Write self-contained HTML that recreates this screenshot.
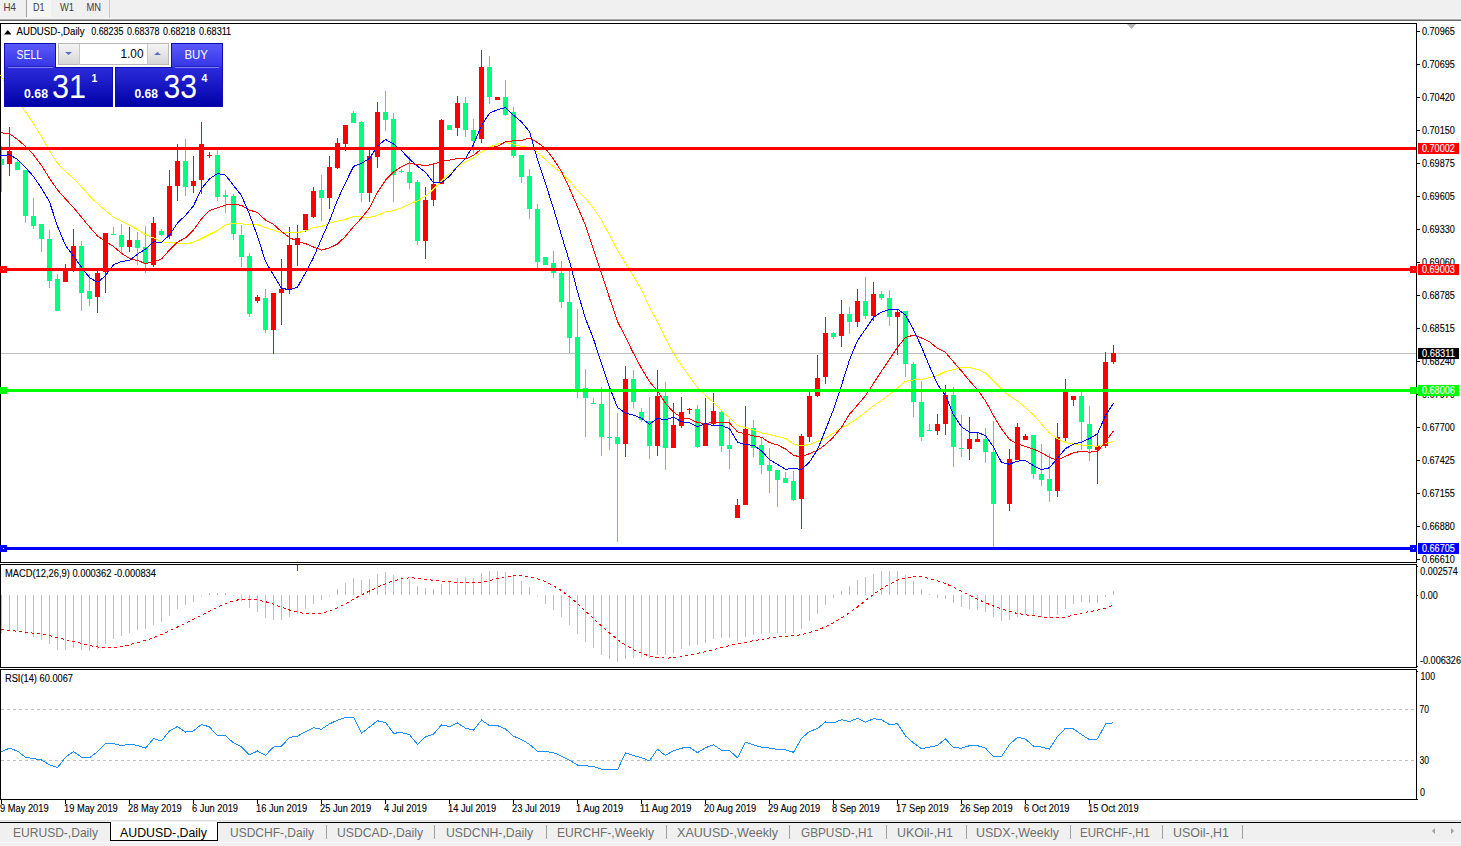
<!DOCTYPE html>
<html><head><meta charset="utf-8"><style>html,body{margin:0;padding:0;background:#fff;overflow:hidden}svg{display:block}</style></head>
<body><svg width="1461" height="846" viewBox="0 0 1461 846" font-family="'Liberation Sans', sans-serif">
<defs>
<linearGradient id="gt" x1="0" y1="0" x2="0" y2="1"><stop offset="0" stop-color="#5B5BFA"/><stop offset="1" stop-color="#3535E6"/></linearGradient>
<linearGradient id="gp" x1="0" y1="0" x2="0" y2="1"><stop offset="0" stop-color="#2C2CDC"/><stop offset="1" stop-color="#0000A6"/></linearGradient>
<linearGradient id="gb" x1="0" y1="0" x2="0" y2="1"><stop offset="0" stop-color="#F4F4F4"/><stop offset="1" stop-color="#D6D6D6"/></linearGradient>
</defs>
<rect x="0" y="0" width="1461" height="846" fill="#fff"/>
<rect x="0" y="0" width="1461" height="18" fill="#F0F0F0" />
<rect x="27" y="0" width="24" height="17" fill="#F6F6F6" />
<rect x="26" y="0" width="1" height="17" fill="#A0A0A0" />
<rect x="109" y="0" width="1" height="18" fill="#C8C8C8" />
<text x="3.5" y="11.2" font-size="10.2" fill="#404040" text-anchor="start" font-weight="normal" textLength="12.5" lengthAdjust="spacingAndGlyphs" >H4</text>
<text x="33" y="11.2" font-size="10.2" fill="#404040" text-anchor="start" font-weight="normal" textLength="11.5" lengthAdjust="spacingAndGlyphs" >D1</text>
<text x="60" y="11.2" font-size="10.2" fill="#404040" text-anchor="start" font-weight="normal" textLength="14" lengthAdjust="spacingAndGlyphs" >W1</text>
<text x="86.5" y="11.2" font-size="10.2" fill="#404040" text-anchor="start" font-weight="normal" textLength="14.5" lengthAdjust="spacingAndGlyphs" >MN</text>
<rect x="0" y="18" width="1461" height="1" fill="#F6F6F6" />
<rect x="0" y="19" width="1461" height="1" fill="#A8A8A8" />
<rect x="0" y="20" width="1461" height="1" fill="#6C6C6C" />
<rect x="0" y="23" width="1417" height="1" fill="#000" />
<rect x="0" y="562" width="1417" height="1" fill="#000" />
<rect x="0" y="23" width="1" height="540" fill="#000" />
<rect x="1416" y="23" width="1" height="540" fill="#000" />
<rect x="0" y="564" width="1417" height="1" fill="#000" />
<rect x="0" y="667" width="1417" height="1" fill="#000" />
<rect x="0" y="564" width="1" height="104" fill="#000" />
<rect x="1416" y="564" width="1" height="104" fill="#000" />
<rect x="0" y="669" width="1417" height="1" fill="#000" />
<rect x="0" y="799" width="1417" height="1" fill="#000" />
<rect x="0" y="669" width="1" height="131" fill="#000" />
<rect x="1416" y="669" width="1" height="131" fill="#000" />
<rect x="1" y="353" width="1415" height="1" fill="#C0C0C0" />
<g shape-rendering="crispEdges">
<rect x="1" y="146" width="1" height="46" fill="#00FF7F" />
<rect x="1" y="159" width="3" height="6" fill="#00FF7F" />
<rect x="9" y="127" width="1" height="49" fill="#FF0000" />
<rect x="7" y="151" width="5" height="13" fill="#FF0000" />
<rect x="17" y="159" width="1" height="11" fill="#00FF7F" />
<rect x="15" y="162" width="5" height="8" fill="#00FF7F" />
<rect x="25" y="170" width="1" height="53" fill="#00FF7F" />
<rect x="23" y="170" width="5" height="46" fill="#00FF7F" />
<rect x="33" y="198" width="1" height="31" fill="#00FF7F" />
<rect x="31" y="216" width="5" height="10" fill="#00FF7F" />
<rect x="41" y="224" width="1" height="28" fill="#00FF7F" />
<rect x="39" y="224" width="5" height="15" fill="#00FF7F" />
<rect x="49" y="230" width="1" height="58" fill="#00FF7F" />
<rect x="47" y="239" width="5" height="42" fill="#00FF7F" />
<rect x="57" y="274" width="1" height="37" fill="#00FF7F" />
<rect x="55" y="279" width="5" height="32" fill="#00FF7F" />
<rect x="65" y="264" width="1" height="18" fill="#FF0000" />
<rect x="63" y="271" width="5" height="11" fill="#FF0000" />
<rect x="73" y="229" width="1" height="43" fill="#FF0000" />
<rect x="71" y="246" width="5" height="25" fill="#FF0000" />
<rect x="81" y="241" width="1" height="70" fill="#00FF7F" />
<rect x="79" y="246" width="5" height="47" fill="#00FF7F" />
<rect x="89" y="274" width="1" height="32" fill="#00FF7F" />
<rect x="87" y="291" width="5" height="8" fill="#00FF7F" />
<rect x="97" y="271" width="1" height="42" fill="#FF0000" />
<rect x="95" y="273" width="5" height="24" fill="#FF0000" />
<rect x="105" y="233" width="1" height="60" fill="#FF0000" />
<rect x="103" y="233" width="5" height="39" fill="#FF0000" />
<rect x="113" y="227" width="1" height="8" fill="#00FF7F" />
<rect x="111" y="234" width="5" height="1" fill="#00FF7F" />
<rect x="121" y="224" width="1" height="30" fill="#00FF7F" />
<rect x="119" y="235" width="5" height="12" fill="#00FF7F" />
<rect x="129" y="227" width="1" height="25" fill="#FF0000" />
<rect x="127" y="240" width="5" height="7" fill="#FF0000" />
<rect x="137" y="232" width="1" height="33" fill="#00FF7F" />
<rect x="135" y="240" width="5" height="8" fill="#00FF7F" />
<rect x="145" y="226" width="1" height="47" fill="#00FF7F" />
<rect x="143" y="247" width="5" height="17" fill="#00FF7F" />
<rect x="153" y="217" width="1" height="50" fill="#FF0000" />
<rect x="151" y="223" width="5" height="42" fill="#FF0000" />
<rect x="161" y="229" width="1" height="7" fill="#00FF7F" />
<rect x="159" y="231" width="5" height="4" fill="#00FF7F" />
<rect x="169" y="170" width="1" height="69" fill="#FF0000" />
<rect x="167" y="186" width="5" height="50" fill="#FF0000" />
<rect x="177" y="144" width="1" height="57" fill="#FF0000" />
<rect x="175" y="161" width="5" height="25" fill="#FF0000" />
<rect x="185" y="139" width="1" height="57" fill="#00FF7F" />
<rect x="183" y="161" width="5" height="26" fill="#00FF7F" />
<rect x="193" y="156" width="1" height="37" fill="#FF0000" />
<rect x="191" y="181" width="5" height="5" fill="#FF0000" />
<rect x="201" y="122" width="1" height="72" fill="#FF0000" />
<rect x="199" y="144" width="5" height="36" fill="#FF0000" />
<rect x="209" y="152" width="1" height="6" fill="#FF0000" />
<rect x="207" y="155" width="5" height="1" fill="#FF0000" />
<rect x="217" y="150" width="1" height="51" fill="#00FF7F" />
<rect x="215" y="155" width="5" height="42" fill="#00FF7F" />
<rect x="225" y="190" width="1" height="23" fill="#00FF7F" />
<rect x="223" y="195" width="5" height="2" fill="#00FF7F" />
<rect x="233" y="194" width="1" height="46" fill="#00FF7F" />
<rect x="231" y="196" width="5" height="38" fill="#00FF7F" />
<rect x="241" y="225" width="1" height="42" fill="#00FF7F" />
<rect x="239" y="235" width="5" height="22" fill="#00FF7F" />
<rect x="249" y="253" width="1" height="64" fill="#00FF7F" />
<rect x="247" y="256" width="5" height="58" fill="#00FF7F" />
<rect x="257" y="295" width="1" height="8" fill="#FF0000" />
<rect x="255" y="297" width="5" height="4" fill="#FF0000" />
<rect x="265" y="289" width="1" height="44" fill="#00FF7F" />
<rect x="263" y="298" width="5" height="32" fill="#00FF7F" />
<rect x="273" y="293" width="1" height="61" fill="#FF0000" />
<rect x="271" y="293" width="5" height="37" fill="#FF0000" />
<rect x="281" y="259" width="1" height="66" fill="#FF0000" />
<rect x="279" y="289" width="5" height="4" fill="#FF0000" />
<rect x="289" y="227" width="1" height="67" fill="#FF0000" />
<rect x="287" y="245" width="5" height="44" fill="#FF0000" />
<rect x="297" y="225" width="1" height="41" fill="#FF0000" />
<rect x="295" y="238" width="5" height="7" fill="#FF0000" />
<rect x="305" y="214" width="1" height="18" fill="#FF0000" />
<rect x="303" y="214" width="5" height="16" fill="#FF0000" />
<rect x="313" y="187" width="1" height="31" fill="#FF0000" />
<rect x="311" y="191" width="5" height="26" fill="#FF0000" />
<rect x="321" y="175" width="1" height="46" fill="#00FF7F" />
<rect x="319" y="190" width="5" height="8" fill="#00FF7F" />
<rect x="329" y="156" width="1" height="53" fill="#FF0000" />
<rect x="327" y="167" width="5" height="31" fill="#FF0000" />
<rect x="337" y="138" width="1" height="31" fill="#FF0000" />
<rect x="335" y="143" width="5" height="25" fill="#FF0000" />
<rect x="345" y="125" width="1" height="26" fill="#FF0000" />
<rect x="343" y="125" width="5" height="19" fill="#FF0000" />
<rect x="353" y="111" width="1" height="12" fill="#00FF7F" />
<rect x="351" y="113" width="5" height="10" fill="#00FF7F" />
<rect x="361" y="121" width="1" height="81" fill="#00FF7F" />
<rect x="359" y="122" width="5" height="71" fill="#00FF7F" />
<rect x="369" y="149" width="1" height="53" fill="#FF0000" />
<rect x="367" y="156" width="5" height="37" fill="#FF0000" />
<rect x="377" y="102" width="1" height="66" fill="#FF0000" />
<rect x="375" y="112" width="5" height="45" fill="#FF0000" />
<rect x="385" y="91" width="1" height="40" fill="#00FF7F" />
<rect x="383" y="112" width="5" height="8" fill="#00FF7F" />
<rect x="393" y="113" width="1" height="89" fill="#00FF7F" />
<rect x="391" y="119" width="5" height="56" fill="#00FF7F" />
<rect x="401" y="169" width="1" height="4" fill="#00FF7F" />
<rect x="399" y="171" width="5" height="1" fill="#00FF7F" />
<rect x="409" y="156" width="1" height="33" fill="#00FF7F" />
<rect x="407" y="172" width="5" height="11" fill="#00FF7F" />
<rect x="417" y="180" width="1" height="65" fill="#00FF7F" />
<rect x="415" y="182" width="5" height="59" fill="#00FF7F" />
<rect x="425" y="187" width="1" height="72" fill="#FF0000" />
<rect x="423" y="200" width="5" height="41" fill="#FF0000" />
<rect x="433" y="163" width="1" height="43" fill="#FF0000" />
<rect x="431" y="184" width="5" height="16" fill="#FF0000" />
<rect x="441" y="119" width="1" height="65" fill="#FF0000" />
<rect x="439" y="120" width="5" height="64" fill="#FF0000" />
<rect x="449" y="125" width="1" height="5" fill="#00FF7F" />
<rect x="447" y="125" width="5" height="5" fill="#00FF7F" />
<rect x="457" y="96" width="1" height="40" fill="#FF0000" />
<rect x="455" y="103" width="5" height="25" fill="#FF0000" />
<rect x="465" y="97" width="1" height="40" fill="#00FF7F" />
<rect x="463" y="103" width="5" height="27" fill="#00FF7F" />
<rect x="473" y="119" width="1" height="34" fill="#00FF7F" />
<rect x="471" y="130" width="5" height="11" fill="#00FF7F" />
<rect x="481" y="50" width="1" height="93" fill="#FF0000" />
<rect x="479" y="67" width="5" height="72" fill="#FF0000" />
<rect x="489" y="56" width="1" height="48" fill="#00FF7F" />
<rect x="487" y="67" width="5" height="30" fill="#00FF7F" />
<rect x="497" y="97" width="1" height="3" fill="#FF0000" />
<rect x="495" y="97" width="5" height="3" fill="#FF0000" />
<rect x="505" y="80" width="1" height="36" fill="#00FF7F" />
<rect x="503" y="97" width="5" height="18" fill="#00FF7F" />
<rect x="513" y="107" width="1" height="51" fill="#00FF7F" />
<rect x="511" y="112" width="5" height="44" fill="#00FF7F" />
<rect x="521" y="155" width="1" height="28" fill="#00FF7F" />
<rect x="519" y="155" width="5" height="22" fill="#00FF7F" />
<rect x="529" y="169" width="1" height="50" fill="#00FF7F" />
<rect x="527" y="176" width="5" height="33" fill="#00FF7F" />
<rect x="537" y="204" width="1" height="64" fill="#00FF7F" />
<rect x="535" y="209" width="5" height="53" fill="#00FF7F" />
<rect x="545" y="257" width="1" height="8" fill="#00FF7F" />
<rect x="543" y="257" width="5" height="8" fill="#00FF7F" />
<rect x="553" y="251" width="1" height="27" fill="#00FF7F" />
<rect x="551" y="263" width="5" height="10" fill="#00FF7F" />
<rect x="561" y="261" width="1" height="47" fill="#00FF7F" />
<rect x="559" y="273" width="5" height="29" fill="#00FF7F" />
<rect x="569" y="270" width="1" height="83" fill="#00FF7F" />
<rect x="567" y="302" width="5" height="36" fill="#00FF7F" />
<rect x="577" y="309" width="1" height="89" fill="#00FF7F" />
<rect x="575" y="337" width="5" height="52" fill="#00FF7F" />
<rect x="585" y="369" width="1" height="68" fill="#00FF7F" />
<rect x="583" y="388" width="5" height="10" fill="#00FF7F" />
<rect x="593" y="398" width="1" height="6" fill="#00FF7F" />
<rect x="591" y="403" width="5" height="1" fill="#00FF7F" />
<rect x="601" y="387" width="1" height="69" fill="#00FF7F" />
<rect x="599" y="404" width="5" height="33" fill="#00FF7F" />
<rect x="609" y="392" width="1" height="58" fill="#00FF7F" />
<rect x="607" y="437" width="5" height="1" fill="#00FF7F" />
<rect x="617" y="413" width="1" height="129" fill="#00FF7F" />
<rect x="615" y="437" width="5" height="7" fill="#00FF7F" />
<rect x="625" y="366" width="1" height="91" fill="#FF0000" />
<rect x="623" y="379" width="5" height="65" fill="#FF0000" />
<rect x="633" y="370" width="1" height="38" fill="#00FF7F" />
<rect x="631" y="379" width="5" height="23" fill="#00FF7F" />
<rect x="641" y="408" width="1" height="14" fill="#00FF7F" />
<rect x="639" y="412" width="5" height="8" fill="#00FF7F" />
<rect x="649" y="397" width="1" height="62" fill="#00FF7F" />
<rect x="647" y="421" width="5" height="25" fill="#00FF7F" />
<rect x="657" y="370" width="1" height="86" fill="#FF0000" />
<rect x="655" y="396" width="5" height="50" fill="#FF0000" />
<rect x="665" y="382" width="1" height="88" fill="#00FF7F" />
<rect x="663" y="396" width="5" height="52" fill="#00FF7F" />
<rect x="673" y="403" width="1" height="45" fill="#FF0000" />
<rect x="671" y="425" width="5" height="23" fill="#FF0000" />
<rect x="681" y="397" width="1" height="31" fill="#FF0000" />
<rect x="679" y="412" width="5" height="14" fill="#FF0000" />
<rect x="689" y="408" width="1" height="6" fill="#FF0000" />
<rect x="687" y="409" width="5" height="1" fill="#FF0000" />
<rect x="697" y="405" width="1" height="43" fill="#00FF7F" />
<rect x="695" y="409" width="5" height="38" fill="#00FF7F" />
<rect x="705" y="398" width="1" height="48" fill="#FF0000" />
<rect x="703" y="424" width="5" height="22" fill="#FF0000" />
<rect x="713" y="393" width="1" height="32" fill="#FF0000" />
<rect x="711" y="411" width="5" height="13" fill="#FF0000" />
<rect x="721" y="411" width="1" height="41" fill="#00FF7F" />
<rect x="719" y="412" width="5" height="34" fill="#00FF7F" />
<rect x="729" y="419" width="1" height="50" fill="#00FF7F" />
<rect x="727" y="445" width="5" height="4" fill="#00FF7F" />
<rect x="737" y="499" width="1" height="19" fill="#FF0000" />
<rect x="735" y="505" width="5" height="13" fill="#FF0000" />
<rect x="745" y="406" width="1" height="99" fill="#FF0000" />
<rect x="743" y="429" width="5" height="76" fill="#FF0000" />
<rect x="753" y="420" width="1" height="37" fill="#00FF7F" />
<rect x="751" y="428" width="5" height="20" fill="#00FF7F" />
<rect x="761" y="438" width="1" height="36" fill="#00FF7F" />
<rect x="759" y="445" width="5" height="20" fill="#00FF7F" />
<rect x="769" y="448" width="1" height="45" fill="#00FF7F" />
<rect x="767" y="465" width="5" height="6" fill="#00FF7F" />
<rect x="777" y="470" width="1" height="37" fill="#00FF7F" />
<rect x="775" y="470" width="5" height="10" fill="#00FF7F" />
<rect x="785" y="472" width="1" height="11" fill="#00FF7F" />
<rect x="783" y="478" width="5" height="5" fill="#00FF7F" />
<rect x="793" y="471" width="1" height="30" fill="#00FF7F" />
<rect x="791" y="481" width="5" height="19" fill="#00FF7F" />
<rect x="801" y="434" width="1" height="95" fill="#FF0000" />
<rect x="799" y="436" width="5" height="63" fill="#FF0000" />
<rect x="809" y="392" width="1" height="50" fill="#FF0000" />
<rect x="807" y="396" width="5" height="41" fill="#FF0000" />
<rect x="817" y="355" width="1" height="42" fill="#FF0000" />
<rect x="815" y="378" width="5" height="18" fill="#FF0000" />
<rect x="825" y="317" width="1" height="67" fill="#FF0000" />
<rect x="823" y="333" width="5" height="44" fill="#FF0000" />
<rect x="833" y="332" width="1" height="7" fill="#00FF7F" />
<rect x="831" y="333" width="5" height="4" fill="#00FF7F" />
<rect x="841" y="300" width="1" height="47" fill="#FF0000" />
<rect x="839" y="314" width="5" height="22" fill="#FF0000" />
<rect x="849" y="307" width="1" height="27" fill="#00FF7F" />
<rect x="847" y="314" width="5" height="8" fill="#00FF7F" />
<rect x="857" y="289" width="1" height="38" fill="#FF0000" />
<rect x="855" y="301" width="5" height="21" fill="#FF0000" />
<rect x="865" y="277" width="1" height="42" fill="#00FF7F" />
<rect x="863" y="301" width="5" height="15" fill="#00FF7F" />
<rect x="873" y="282" width="1" height="39" fill="#FF0000" />
<rect x="871" y="294" width="5" height="22" fill="#FF0000" />
<rect x="881" y="291" width="1" height="9" fill="#00FF7F" />
<rect x="879" y="294" width="5" height="4" fill="#00FF7F" />
<rect x="889" y="290" width="1" height="36" fill="#00FF7F" />
<rect x="887" y="298" width="5" height="19" fill="#00FF7F" />
<rect x="897" y="309" width="1" height="46" fill="#FF0000" />
<rect x="895" y="312" width="5" height="5" fill="#FF0000" />
<rect x="905" y="311" width="1" height="66" fill="#00FF7F" />
<rect x="903" y="311" width="5" height="53" fill="#00FF7F" />
<rect x="913" y="362" width="1" height="55" fill="#00FF7F" />
<rect x="911" y="364" width="5" height="38" fill="#00FF7F" />
<rect x="921" y="381" width="1" height="60" fill="#00FF7F" />
<rect x="919" y="402" width="5" height="35" fill="#00FF7F" />
<rect x="929" y="424" width="1" height="7" fill="#00FF7F" />
<rect x="927" y="430" width="5" height="1" fill="#00FF7F" />
<rect x="937" y="414" width="1" height="21" fill="#FF0000" />
<rect x="935" y="424" width="5" height="7" fill="#FF0000" />
<rect x="945" y="385" width="1" height="50" fill="#FF0000" />
<rect x="943" y="395" width="5" height="29" fill="#FF0000" />
<rect x="953" y="387" width="1" height="80" fill="#00FF7F" />
<rect x="951" y="395" width="5" height="52" fill="#00FF7F" />
<rect x="961" y="415" width="1" height="42" fill="#00FF7F" />
<rect x="959" y="448" width="5" height="1" fill="#00FF7F" />
<rect x="969" y="417" width="1" height="43" fill="#FF0000" />
<rect x="967" y="439" width="5" height="10" fill="#FF0000" />
<rect x="977" y="433" width="1" height="9" fill="#FF0000" />
<rect x="975" y="439" width="5" height="3" fill="#FF0000" />
<rect x="985" y="428" width="1" height="35" fill="#00FF7F" />
<rect x="983" y="439" width="5" height="13" fill="#00FF7F" />
<rect x="993" y="421" width="1" height="126" fill="#00FF7F" />
<rect x="991" y="452" width="5" height="52" fill="#00FF7F" />
<rect x="1009" y="449" width="1" height="62" fill="#FF0000" />
<rect x="1007" y="459" width="5" height="45" fill="#FF0000" />
<rect x="1017" y="423" width="1" height="37" fill="#FF0000" />
<rect x="1015" y="427" width="5" height="33" fill="#FF0000" />
<rect x="1025" y="434" width="1" height="6" fill="#FF0000" />
<rect x="1023" y="436" width="5" height="4" fill="#FF0000" />
<rect x="1033" y="435" width="1" height="44" fill="#00FF7F" />
<rect x="1031" y="435" width="5" height="39" fill="#00FF7F" />
<rect x="1041" y="444" width="1" height="42" fill="#00FF7F" />
<rect x="1039" y="474" width="5" height="6" fill="#00FF7F" />
<rect x="1049" y="453" width="1" height="49" fill="#00FF7F" />
<rect x="1047" y="479" width="5" height="12" fill="#00FF7F" />
<rect x="1057" y="423" width="1" height="74" fill="#FF0000" />
<rect x="1055" y="437" width="5" height="54" fill="#FF0000" />
<rect x="1065" y="379" width="1" height="62" fill="#FF0000" />
<rect x="1063" y="392" width="5" height="46" fill="#FF0000" />
<rect x="1073" y="396" width="1" height="10" fill="#FF0000" />
<rect x="1071" y="396" width="5" height="4" fill="#FF0000" />
<rect x="1081" y="390" width="1" height="60" fill="#00FF7F" />
<rect x="1079" y="396" width="5" height="26" fill="#00FF7F" />
<rect x="1089" y="406" width="1" height="55" fill="#00FF7F" />
<rect x="1087" y="424" width="5" height="25" fill="#00FF7F" />
<rect x="1097" y="433" width="1" height="51" fill="#FF0000" />
<rect x="1095" y="446" width="5" height="4" fill="#FF0000" />
<rect x="1105" y="352" width="1" height="96" fill="#FF0000" />
<rect x="1103" y="362" width="5" height="84" fill="#FF0000" />
<rect x="1113" y="345" width="1" height="19" fill="#FF0000" />
<rect x="1111" y="353" width="5" height="9" fill="#FF0000" />
</g>
<polyline points="0.5,75.5 1.5,77.0 9.5,88.6 17.5,100.3 25.5,111.9 33.5,123.6 41.5,136.5 49.5,150.8 57.5,163.1 65.5,171.5 73.5,178.2 81.5,186.8 89.5,195.9 97.5,203.7 105.5,210.6 113.5,217.2 121.5,221.3 129.5,225.4 137.5,229.5 145.5,234.6 153.5,237.9 161.5,241.7 169.5,242.7 177.5,243.2 185.5,244.0 193.5,242.4 201.5,238.5 209.5,234.5 217.5,230.5 225.5,225.0 233.5,223.3 241.5,223.8 249.5,224.8 257.5,224.7 265.5,227.4 273.5,230.3 281.5,232.8 289.5,232.7 297.5,232.6 305.5,231.0 313.5,227.5 321.5,226.4 329.5,223.1 337.5,221.1 345.5,219.4 353.5,216.3 361.5,216.9 369.5,217.5 377.5,215.4 385.5,211.7 393.5,210.7 401.5,207.7 409.5,204.2 417.5,200.7 425.5,196.1 433.5,189.2 441.5,180.9 449.5,173.4 457.5,166.6 465.5,161.5 473.5,158.0 481.5,152.1 489.5,147.3 497.5,143.9 505.5,142.6 513.5,144.1 521.5,146.6 529.5,147.4 537.5,152.5 545.5,159.7 553.5,167.0 561.5,173.1 569.5,181.0 577.5,190.8 585.5,198.3 593.5,208.0 601.5,220.0 609.5,235.2 617.5,250.1 625.5,263.3 633.5,276.2 641.5,289.5 649.5,307.5 657.5,321.8 665.5,338.5 673.5,353.3 681.5,365.5 689.5,376.5 697.5,387.8 705.5,395.5 713.5,402.5 721.5,410.7 729.5,417.7 737.5,425.7 745.5,427.6 753.5,430.0 761.5,432.9 769.5,434.5 777.5,436.5 785.5,438.4 793.5,444.1 801.5,445.7 809.5,444.6 817.5,441.4 825.5,438.4 833.5,433.1 841.5,427.8 849.5,423.5 857.5,418.4 865.5,412.1 873.5,405.9 881.5,400.5 889.5,394.4 897.5,387.9 905.5,381.2 913.5,379.9 921.5,379.4 929.5,377.7 937.5,375.5 945.5,371.5 953.5,369.7 961.5,367.3 969.5,367.5 977.5,369.5 985.5,373.0 993.5,381.2 1001.5,389.1 1009.5,396.0 1017.5,401.0 1025.5,407.5 1033.5,415.0 1041.5,423.8 1049.5,433.0 1057.5,438.7 1065.5,442.5 1073.5,444.1 1081.5,445.0 1089.5,445.6 1097.5,446.3 1105.5,443.4 1113.5,441.4" fill="none" stroke="#FFFF00" stroke-width="1" shape-rendering="crispEdges"/>
<polyline points="0.5,132.7 1.5,132.8 9.5,133.7 17.5,139.4 25.5,146.4 33.5,154.8 41.5,165.5 49.5,178.3 57.5,189.9 65.5,199.0 73.5,207.6 81.5,217.2 89.5,226.9 97.5,235.9 105.5,241.5 113.5,246.5 121.5,253.4 129.5,258.4 137.5,260.6 145.5,263.4 153.5,262.2 161.5,258.9 169.5,250.0 177.5,242.1 185.5,237.9 193.5,229.9 201.5,218.9 209.5,210.4 217.5,207.9 225.5,205.1 233.5,204.2 241.5,205.4 249.5,210.1 257.5,212.5 265.5,220.1 273.5,224.3 281.5,231.6 289.5,237.6 297.5,241.3 305.5,243.6 313.5,247.0 321.5,250.1 329.5,247.9 337.5,244.1 345.5,236.3 353.5,226.7 361.5,218.1 369.5,208.0 377.5,192.4 385.5,180.1 393.5,171.9 401.5,166.7 409.5,162.8 417.5,164.7 425.5,165.4 433.5,164.4 441.5,161.0 449.5,160.1 457.5,158.5 465.5,159.0 473.5,155.3 481.5,148.9 489.5,147.9 497.5,146.2 505.5,141.9 513.5,140.8 521.5,140.4 529.5,138.1 537.5,142.5 545.5,148.3 553.5,159.2 561.5,171.5 569.5,188.3 577.5,206.8 585.5,225.1 593.5,249.2 601.5,273.5 609.5,297.9 617.5,321.4 625.5,337.3 633.5,353.4 641.5,368.4 649.5,381.6 657.5,390.9 665.5,403.4 673.5,412.2 681.5,417.5 689.5,418.9 697.5,422.4 705.5,423.9 713.5,422.0 721.5,422.6 729.5,422.9 737.5,431.9 745.5,433.9 753.5,435.9 761.5,437.2 769.5,442.6 777.5,444.9 785.5,449.0 793.5,455.3 801.5,457.2 809.5,453.6 817.5,450.3 825.5,444.7 833.5,436.9 841.5,427.3 849.5,414.2 857.5,405.1 865.5,395.6 873.5,383.4 881.5,371.1 889.5,359.4 897.5,347.2 905.5,337.5 913.5,335.1 921.5,338.0 929.5,341.8 937.5,348.3 945.5,352.4 953.5,361.9 961.5,371.0 969.5,380.9 977.5,389.6 985.5,400.9 993.5,415.6 1001.5,429.0 1009.5,439.5 1017.5,444.0 1025.5,446.4 1033.5,449.1 1041.5,452.6 1049.5,457.4 1057.5,460.4 1065.5,456.4 1073.5,452.6 1081.5,451.4 1089.5,452.1 1097.5,451.7 1105.5,441.6 1113.5,430.8" fill="none" stroke="#FF0000" stroke-width="1" shape-rendering="crispEdges"/>
<polyline points="0.5,155.8 1.5,155.7 9.5,154.7 17.5,159.3 25.5,167.2 33.5,176.6 41.5,188.3 49.5,201.8 57.5,226.3 65.5,245.4 73.5,256.2 81.5,267.2 89.5,277.6 97.5,282.5 105.5,275.6 113.5,264.8 121.5,261.4 129.5,260.5 137.5,254.1 145.5,249.1 153.5,241.9 161.5,242.2 169.5,235.2 177.5,222.9 185.5,215.4 193.5,205.8 201.5,188.6 209.5,178.9 217.5,173.5 225.5,175.1 233.5,185.5 241.5,195.5 249.5,214.5 257.5,236.4 265.5,261.4 273.5,275.1 281.5,288.2 289.5,289.8 297.5,287.1 305.5,272.8 313.5,257.6 321.5,238.8 329.5,220.8 337.5,199.9 345.5,182.8 353.5,166.4 361.5,163.4 369.5,158.4 377.5,146.1 385.5,139.4 393.5,143.9 401.5,150.6 409.5,159.2 417.5,166.1 425.5,172.4 433.5,182.6 441.5,182.6 449.5,176.2 457.5,166.4 465.5,158.8 473.5,144.5 481.5,125.5 489.5,113.1 497.5,109.8 505.5,107.6 513.5,115.2 521.5,121.9 529.5,131.6 537.5,159.5 545.5,183.5 553.5,208.6 561.5,235.4 569.5,261.4 577.5,291.6 585.5,318.6 593.5,338.9 601.5,363.5 609.5,387.1 617.5,407.4 625.5,413.2 633.5,415.1 641.5,418.2 649.5,424.2 657.5,418.4 665.5,419.8 673.5,417.1 681.5,421.8 689.5,422.8 697.5,426.6 705.5,423.5 713.5,425.6 721.5,425.4 729.5,428.8 737.5,442.1 745.5,444.9 753.5,445.1 761.5,450.9 769.5,459.5 777.5,464.4 785.5,469.2 793.5,468.5 801.5,469.5 809.5,462.1 817.5,449.6 825.5,429.9 833.5,409.5 841.5,385.4 849.5,359.9 857.5,340.6 865.5,329.2 873.5,317.2 881.5,312.2 889.5,309.4 897.5,309.1 905.5,315.1 913.5,329.5 921.5,346.8 929.5,366.4 937.5,384.4 945.5,395.5 953.5,414.8 961.5,426.9 969.5,432.2 977.5,432.5 985.5,435.5 993.5,446.9 1001.5,462.5 1009.5,464.2 1017.5,461.1 1025.5,460.6 1033.5,465.6 1041.5,469.6 1049.5,467.8 1057.5,458.2 1065.5,448.6 1073.5,444.2 1081.5,442.2 1089.5,438.6 1097.5,433.8 1105.5,415.4 1113.5,403.4" fill="none" stroke="#0000FF" stroke-width="1" shape-rendering="crispEdges"/>
<rect x="1" y="147" width="1415" height="3" fill="#FF0000" />
<rect x="1" y="268" width="1415" height="3" fill="#FF0000" />
<rect x="1" y="389" width="1415" height="3" fill="#00FF00" />
<rect x="1" y="547" width="1415" height="3" fill="#0000FF" />
<rect x="0" y="266" width="7" height="7" fill="#FF0000" />
<rect x="1410" y="266" width="7" height="7" fill="#FF0000" />
<rect x="3" y="269" width="1" height="1" fill="#fff" />
<rect x="1413" y="269" width="1" height="1" fill="#fff" />
<rect x="0" y="387" width="7" height="7" fill="#00FF00" />
<rect x="1410" y="387" width="7" height="7" fill="#00FF00" />
<rect x="3" y="390" width="1" height="1" fill="#fff" />
<rect x="1413" y="390" width="1" height="1" fill="#fff" />
<rect x="0" y="545" width="7" height="7" fill="#0000FF" />
<rect x="1410" y="545" width="7" height="7" fill="#0000FF" />
<rect x="3" y="548" width="1" height="1" fill="#fff" />
<rect x="1413" y="548" width="1" height="1" fill="#fff" />
<polygon points="1127,24 1136,24 1131.5,29" fill="#B4B4B4"/>
<polygon points="4,34.5 11.5,34.5 7.75,30" fill="#000"/>
<text x="16.5" y="35.2" font-size="10" fill="#000" text-anchor="start" font-weight="normal" textLength="68" lengthAdjust="spacingAndGlyphs"  stroke="#000" stroke-width="0.12">AUDUSD-,Daily</text>
<text x="91.2" y="35.2" font-size="10" fill="#000" text-anchor="start" font-weight="normal" textLength="32.3" lengthAdjust="spacingAndGlyphs"  stroke="#000" stroke-width="0.12">0.68235</text>
<text x="127.1" y="35.2" font-size="10" fill="#000" text-anchor="start" font-weight="normal" textLength="32.3" lengthAdjust="spacingAndGlyphs"  stroke="#000" stroke-width="0.12">0.68378</text>
<text x="163.0" y="35.2" font-size="10" fill="#000" text-anchor="start" font-weight="normal" textLength="32.3" lengthAdjust="spacingAndGlyphs"  stroke="#000" stroke-width="0.12">0.68218</text>
<text x="198.89999999999998" y="35.2" font-size="10" fill="#000" text-anchor="start" font-weight="normal" textLength="32.3" lengthAdjust="spacingAndGlyphs"  stroke="#000" stroke-width="0.12">0.68311</text>
<rect x="1417" y="31" width="3" height="1" fill="#000" />
<text x="1422" y="34.6" font-size="10" fill="#000" text-anchor="start" font-weight="normal" textLength="32.8" lengthAdjust="spacingAndGlyphs"  stroke="#000" stroke-width="0.12">0.70965</text>
<rect x="1417" y="64" width="3" height="1" fill="#000" />
<text x="1422" y="67.6" font-size="10" fill="#000" text-anchor="start" font-weight="normal" textLength="32.8" lengthAdjust="spacingAndGlyphs"  stroke="#000" stroke-width="0.12">0.70695</text>
<rect x="1417" y="97" width="3" height="1" fill="#000" />
<text x="1422" y="100.6" font-size="10" fill="#000" text-anchor="start" font-weight="normal" textLength="32.8" lengthAdjust="spacingAndGlyphs"  stroke="#000" stroke-width="0.12">0.70420</text>
<rect x="1417" y="130" width="3" height="1" fill="#000" />
<text x="1422" y="133.6" font-size="10" fill="#000" text-anchor="start" font-weight="normal" textLength="32.8" lengthAdjust="spacingAndGlyphs"  stroke="#000" stroke-width="0.12">0.70150</text>
<rect x="1417" y="163" width="3" height="1" fill="#000" />
<text x="1422" y="166.6" font-size="10" fill="#000" text-anchor="start" font-weight="normal" textLength="32.8" lengthAdjust="spacingAndGlyphs"  stroke="#000" stroke-width="0.12">0.69875</text>
<rect x="1417" y="196" width="3" height="1" fill="#000" />
<text x="1422" y="199.6" font-size="10" fill="#000" text-anchor="start" font-weight="normal" textLength="32.8" lengthAdjust="spacingAndGlyphs"  stroke="#000" stroke-width="0.12">0.69605</text>
<rect x="1417" y="229" width="3" height="1" fill="#000" />
<text x="1422" y="232.6" font-size="10" fill="#000" text-anchor="start" font-weight="normal" textLength="32.8" lengthAdjust="spacingAndGlyphs"  stroke="#000" stroke-width="0.12">0.69330</text>
<rect x="1417" y="262" width="3" height="1" fill="#000" />
<text x="1422" y="265.6" font-size="10" fill="#000" text-anchor="start" font-weight="normal" textLength="32.8" lengthAdjust="spacingAndGlyphs"  stroke="#000" stroke-width="0.12">0.69060</text>
<rect x="1417" y="295" width="3" height="1" fill="#000" />
<text x="1422" y="298.6" font-size="10" fill="#000" text-anchor="start" font-weight="normal" textLength="32.8" lengthAdjust="spacingAndGlyphs"  stroke="#000" stroke-width="0.12">0.68785</text>
<rect x="1417" y="328" width="3" height="1" fill="#000" />
<text x="1422" y="331.6" font-size="10" fill="#000" text-anchor="start" font-weight="normal" textLength="32.8" lengthAdjust="spacingAndGlyphs"  stroke="#000" stroke-width="0.12">0.68515</text>
<rect x="1417" y="361" width="3" height="1" fill="#000" />
<text x="1422" y="364.6" font-size="10" fill="#000" text-anchor="start" font-weight="normal" textLength="32.8" lengthAdjust="spacingAndGlyphs"  stroke="#000" stroke-width="0.12">0.68240</text>
<rect x="1417" y="394" width="3" height="1" fill="#000" />
<text x="1422" y="397.6" font-size="10" fill="#000" text-anchor="start" font-weight="normal" textLength="32.8" lengthAdjust="spacingAndGlyphs"  stroke="#000" stroke-width="0.12">0.67970</text>
<rect x="1417" y="427" width="3" height="1" fill="#000" />
<text x="1422" y="430.6" font-size="10" fill="#000" text-anchor="start" font-weight="normal" textLength="32.8" lengthAdjust="spacingAndGlyphs"  stroke="#000" stroke-width="0.12">0.67700</text>
<rect x="1417" y="460" width="3" height="1" fill="#000" />
<text x="1422" y="463.6" font-size="10" fill="#000" text-anchor="start" font-weight="normal" textLength="32.8" lengthAdjust="spacingAndGlyphs"  stroke="#000" stroke-width="0.12">0.67425</text>
<rect x="1417" y="493" width="3" height="1" fill="#000" />
<text x="1422" y="496.6" font-size="10" fill="#000" text-anchor="start" font-weight="normal" textLength="32.8" lengthAdjust="spacingAndGlyphs"  stroke="#000" stroke-width="0.12">0.67155</text>
<rect x="1417" y="526" width="3" height="1" fill="#000" />
<text x="1422" y="529.6" font-size="10" fill="#000" text-anchor="start" font-weight="normal" textLength="32.8" lengthAdjust="spacingAndGlyphs"  stroke="#000" stroke-width="0.12">0.66880</text>
<rect x="1417" y="559" width="3" height="1" fill="#000" />
<text x="1422" y="562.6" font-size="10" fill="#000" text-anchor="start" font-weight="normal" textLength="32.8" lengthAdjust="spacingAndGlyphs"  stroke="#000" stroke-width="0.12">0.66610</text>
<rect x="1418" y="143" width="41" height="11" fill="#FF0000" />
<text x="1422" y="151.6" font-size="10" fill="#fff" text-anchor="start" font-weight="normal" textLength="32.8" lengthAdjust="spacingAndGlyphs"  stroke="#fff" stroke-width="0.12">0.70002</text>
<rect x="1418" y="264" width="41" height="11" fill="#FF0000" />
<text x="1422" y="272.6" font-size="10" fill="#fff" text-anchor="start" font-weight="normal" textLength="32.8" lengthAdjust="spacingAndGlyphs"  stroke="#fff" stroke-width="0.12">0.69003</text>
<rect x="1418" y="348" width="41" height="11" fill="#000" />
<text x="1422" y="356.6" font-size="10" fill="#fff" text-anchor="start" font-weight="normal" textLength="32.8" lengthAdjust="spacingAndGlyphs"  stroke="#fff" stroke-width="0.12">0.68311</text>
<rect x="1418" y="385" width="41" height="11" fill="#00FF00" />
<text x="1422" y="393.6" font-size="10" fill="#fff" text-anchor="start" font-weight="normal" textLength="32.8" lengthAdjust="spacingAndGlyphs"  stroke="#fff" stroke-width="0.12">0.68006</text>
<rect x="1418" y="543" width="41" height="11" fill="#0000FF" />
<text x="1422" y="551.6" font-size="10" fill="#fff" text-anchor="start" font-weight="normal" textLength="32.8" lengthAdjust="spacingAndGlyphs"  stroke="#fff" stroke-width="0.12">0.66705</text>
<g shape-rendering="crispEdges">
<rect x="1" y="595" width="1" height="38" fill="#C0C0C0" />
<rect x="9" y="595" width="1" height="36" fill="#C0C0C0" />
<rect x="17" y="595" width="1" height="36" fill="#C0C0C0" />
<rect x="25" y="595" width="1" height="39" fill="#C0C0C0" />
<rect x="33" y="595" width="1" height="42" fill="#C0C0C0" />
<rect x="41" y="595" width="1" height="45" fill="#C0C0C0" />
<rect x="49" y="595" width="1" height="49" fill="#C0C0C0" />
<rect x="57" y="595" width="1" height="55" fill="#C0C0C0" />
<rect x="65" y="595" width="1" height="55" fill="#C0C0C0" />
<rect x="73" y="595" width="1" height="53" fill="#C0C0C0" />
<rect x="81" y="595" width="1" height="55" fill="#C0C0C0" />
<rect x="89" y="595" width="1" height="56" fill="#C0C0C0" />
<rect x="97" y="595" width="1" height="54" fill="#C0C0C0" />
<rect x="105" y="595" width="1" height="49" fill="#C0C0C0" />
<rect x="113" y="595" width="1" height="44" fill="#C0C0C0" />
<rect x="121" y="595" width="1" height="41" fill="#C0C0C0" />
<rect x="129" y="595" width="1" height="38" fill="#C0C0C0" />
<rect x="137" y="595" width="1" height="35" fill="#C0C0C0" />
<rect x="145" y="595" width="1" height="34" fill="#C0C0C0" />
<rect x="153" y="595" width="1" height="30" fill="#C0C0C0" />
<rect x="161" y="595" width="1" height="27" fill="#C0C0C0" />
<rect x="169" y="595" width="1" height="21" fill="#C0C0C0" />
<rect x="177" y="595" width="1" height="14" fill="#C0C0C0" />
<rect x="185" y="595" width="1" height="10" fill="#C0C0C0" />
<rect x="193" y="595" width="1" height="7" fill="#C0C0C0" />
<rect x="201" y="595" width="1" height="1" fill="#C0C0C0" />
<rect x="209" y="593" width="1" height="2" fill="#C0C0C0" />
<rect x="217" y="593" width="1" height="2" fill="#C0C0C0" />
<rect x="225" y="593" width="1" height="2" fill="#C0C0C0" />
<rect x="233" y="595" width="1" height="1" fill="#C0C0C0" />
<rect x="241" y="595" width="1" height="6" fill="#C0C0C0" />
<rect x="249" y="595" width="1" height="13" fill="#C0C0C0" />
<rect x="257" y="595" width="1" height="17" fill="#C0C0C0" />
<rect x="265" y="595" width="1" height="23" fill="#C0C0C0" />
<rect x="273" y="595" width="1" height="25" fill="#C0C0C0" />
<rect x="281" y="595" width="1" height="25" fill="#C0C0C0" />
<rect x="289" y="595" width="1" height="22" fill="#C0C0C0" />
<rect x="297" y="595" width="1" height="19" fill="#C0C0C0" />
<rect x="305" y="595" width="1" height="14" fill="#C0C0C0" />
<rect x="313" y="595" width="1" height="9" fill="#C0C0C0" />
<rect x="321" y="595" width="1" height="5" fill="#C0C0C0" />
<rect x="329" y="595" width="1" height="1" fill="#C0C0C0" />
<rect x="337" y="589" width="1" height="6" fill="#C0C0C0" />
<rect x="345" y="583" width="1" height="12" fill="#C0C0C0" />
<rect x="353" y="578" width="1" height="17" fill="#C0C0C0" />
<rect x="361" y="580" width="1" height="15" fill="#C0C0C0" />
<rect x="369" y="579" width="1" height="16" fill="#C0C0C0" />
<rect x="377" y="574" width="1" height="21" fill="#C0C0C0" />
<rect x="385" y="572" width="1" height="23" fill="#C0C0C0" />
<rect x="393" y="575" width="1" height="20" fill="#C0C0C0" />
<rect x="401" y="577" width="1" height="18" fill="#C0C0C0" />
<rect x="409" y="579" width="1" height="16" fill="#C0C0C0" />
<rect x="417" y="586" width="1" height="9" fill="#C0C0C0" />
<rect x="425" y="588" width="1" height="7" fill="#C0C0C0" />
<rect x="433" y="589" width="1" height="6" fill="#C0C0C0" />
<rect x="441" y="584" width="1" height="11" fill="#C0C0C0" />
<rect x="449" y="582" width="1" height="13" fill="#C0C0C0" />
<rect x="457" y="578" width="1" height="17" fill="#C0C0C0" />
<rect x="465" y="577" width="1" height="18" fill="#C0C0C0" />
<rect x="473" y="578" width="1" height="17" fill="#C0C0C0" />
<rect x="481" y="573" width="1" height="22" fill="#C0C0C0" />
<rect x="489" y="571" width="1" height="24" fill="#C0C0C0" />
<rect x="497" y="571" width="1" height="24" fill="#C0C0C0" />
<rect x="505" y="572" width="1" height="23" fill="#C0C0C0" />
<rect x="513" y="576" width="1" height="19" fill="#C0C0C0" />
<rect x="521" y="581" width="1" height="14" fill="#C0C0C0" />
<rect x="529" y="587" width="1" height="8" fill="#C0C0C0" />
<rect x="537" y="595" width="1" height="1" fill="#C0C0C0" />
<rect x="545" y="595" width="1" height="9" fill="#C0C0C0" />
<rect x="553" y="595" width="1" height="15" fill="#C0C0C0" />
<rect x="561" y="595" width="1" height="22" fill="#C0C0C0" />
<rect x="569" y="595" width="1" height="30" fill="#C0C0C0" />
<rect x="577" y="595" width="1" height="39" fill="#C0C0C0" />
<rect x="585" y="595" width="1" height="47" fill="#C0C0C0" />
<rect x="593" y="595" width="1" height="53" fill="#C0C0C0" />
<rect x="601" y="595" width="1" height="60" fill="#C0C0C0" />
<rect x="609" y="595" width="1" height="64" fill="#C0C0C0" />
<rect x="617" y="595" width="1" height="67" fill="#C0C0C0" />
<rect x="625" y="595" width="1" height="64" fill="#C0C0C0" />
<rect x="633" y="595" width="1" height="63" fill="#C0C0C0" />
<rect x="641" y="595" width="1" height="62" fill="#C0C0C0" />
<rect x="649" y="595" width="1" height="63" fill="#C0C0C0" />
<rect x="657" y="595" width="1" height="60" fill="#C0C0C0" />
<rect x="665" y="595" width="1" height="60" fill="#C0C0C0" />
<rect x="673" y="595" width="1" height="58" fill="#C0C0C0" />
<rect x="681" y="595" width="1" height="54" fill="#C0C0C0" />
<rect x="689" y="595" width="1" height="51" fill="#C0C0C0" />
<rect x="697" y="595" width="1" height="50" fill="#C0C0C0" />
<rect x="705" y="595" width="1" height="48" fill="#C0C0C0" />
<rect x="713" y="595" width="1" height="44" fill="#C0C0C0" />
<rect x="721" y="595" width="1" height="43" fill="#C0C0C0" />
<rect x="729" y="595" width="1" height="43" fill="#C0C0C0" />
<rect x="737" y="595" width="1" height="46" fill="#C0C0C0" />
<rect x="745" y="595" width="1" height="42" fill="#C0C0C0" />
<rect x="753" y="595" width="1" height="40" fill="#C0C0C0" />
<rect x="761" y="595" width="1" height="39" fill="#C0C0C0" />
<rect x="769" y="595" width="1" height="38" fill="#C0C0C0" />
<rect x="777" y="595" width="1" height="38" fill="#C0C0C0" />
<rect x="785" y="595" width="1" height="38" fill="#C0C0C0" />
<rect x="793" y="595" width="1" height="38" fill="#C0C0C0" />
<rect x="801" y="595" width="1" height="34" fill="#C0C0C0" />
<rect x="809" y="595" width="1" height="26" fill="#C0C0C0" />
<rect x="817" y="595" width="1" height="19" fill="#C0C0C0" />
<rect x="825" y="595" width="1" height="10" fill="#C0C0C0" />
<rect x="833" y="595" width="1" height="3" fill="#C0C0C0" />
<rect x="841" y="591" width="1" height="4" fill="#C0C0C0" />
<rect x="849" y="586" width="1" height="9" fill="#C0C0C0" />
<rect x="857" y="580" width="1" height="15" fill="#C0C0C0" />
<rect x="865" y="577" width="1" height="18" fill="#C0C0C0" />
<rect x="873" y="574" width="1" height="21" fill="#C0C0C0" />
<rect x="881" y="571" width="1" height="24" fill="#C0C0C0" />
<rect x="889" y="571" width="1" height="24" fill="#C0C0C0" />
<rect x="897" y="571" width="1" height="24" fill="#C0C0C0" />
<rect x="905" y="575" width="1" height="20" fill="#C0C0C0" />
<rect x="913" y="581" width="1" height="14" fill="#C0C0C0" />
<rect x="921" y="589" width="1" height="6" fill="#C0C0C0" />
<rect x="929" y="594" width="1" height="1" fill="#C0C0C0" />
<rect x="937" y="595" width="1" height="3" fill="#C0C0C0" />
<rect x="945" y="595" width="1" height="4" fill="#C0C0C0" />
<rect x="953" y="595" width="1" height="8" fill="#C0C0C0" />
<rect x="961" y="595" width="1" height="12" fill="#C0C0C0" />
<rect x="969" y="595" width="1" height="14" fill="#C0C0C0" />
<rect x="977" y="595" width="1" height="15" fill="#C0C0C0" />
<rect x="985" y="595" width="1" height="17" fill="#C0C0C0" />
<rect x="993" y="595" width="1" height="22" fill="#C0C0C0" />
<rect x="1001" y="595" width="1" height="26" fill="#C0C0C0" />
<rect x="1009" y="595" width="1" height="25" fill="#C0C0C0" />
<rect x="1017" y="595" width="1" height="22" fill="#C0C0C0" />
<rect x="1025" y="595" width="1" height="20" fill="#C0C0C0" />
<rect x="1033" y="595" width="1" height="21" fill="#C0C0C0" />
<rect x="1041" y="595" width="1" height="22" fill="#C0C0C0" />
<rect x="1049" y="595" width="1" height="23" fill="#C0C0C0" />
<rect x="1057" y="595" width="1" height="20" fill="#C0C0C0" />
<rect x="1065" y="595" width="1" height="14" fill="#C0C0C0" />
<rect x="1073" y="595" width="1" height="9" fill="#C0C0C0" />
<rect x="1081" y="595" width="1" height="7" fill="#C0C0C0" />
<rect x="1089" y="595" width="1" height="8" fill="#C0C0C0" />
<rect x="1097" y="595" width="1" height="8" fill="#C0C0C0" />
<rect x="1105" y="595" width="1" height="2" fill="#C0C0C0" />
<rect x="1113" y="591" width="1" height="4" fill="#C0C0C0" />
</g>
<polyline points="1.5,629.2 9.5,630.4 17.5,631.3 25.5,632.3 33.5,633.2 41.5,634.2 49.5,635.6 57.5,637.5 65.5,639.6 73.5,641.3 81.5,643.3 89.5,645.5 97.5,647.0 105.5,647.7 113.5,647.7 121.5,646.7 129.5,644.8 137.5,642.6 145.5,640.4 153.5,637.7 161.5,634.5 169.5,630.8 177.5,627.0 185.5,623.2 193.5,619.4 201.5,615.3 209.5,611.2 217.5,607.2 225.5,603.7 233.5,600.8 241.5,599.2 249.5,599.1 257.5,599.9 265.5,601.7 273.5,604.3 281.5,607.3 289.5,610.0 297.5,612.2 305.5,613.7 313.5,614.0 321.5,613.1 329.5,611.1 337.5,607.9 345.5,603.8 353.5,599.1 361.5,595.0 369.5,591.0 377.5,587.2 385.5,583.7 393.5,580.9 401.5,578.9 409.5,577.8 417.5,578.2 425.5,579.3 433.5,580.3 441.5,581.0 449.5,581.8 457.5,582.5 465.5,582.8 473.5,582.9 481.5,582.2 489.5,580.6 497.5,578.6 505.5,576.7 513.5,575.8 521.5,575.6 529.5,576.6 537.5,578.7 545.5,581.6 553.5,585.7 561.5,590.7 569.5,596.7 577.5,603.7 585.5,611.1 593.5,618.6 601.5,626.1 609.5,633.0 617.5,639.6 625.5,645.1 633.5,649.7 641.5,653.3 649.5,656.0 657.5,657.4 665.5,658.1 673.5,657.9 681.5,656.8 689.5,655.0 697.5,653.4 705.5,651.7 713.5,649.7 721.5,647.5 729.5,645.6 737.5,644.0 745.5,642.3 753.5,640.7 761.5,639.4 769.5,638.0 777.5,637.0 785.5,636.3 793.5,635.7 801.5,634.7 809.5,632.6 817.5,630.1 825.5,626.8 833.5,622.8 841.5,618.0 849.5,612.7 857.5,606.9 865.5,600.6 873.5,594.5 881.5,588.9 889.5,584.1 897.5,580.3 905.5,577.7 913.5,576.6 921.5,576.9 929.5,578.5 937.5,580.8 945.5,583.6 953.5,587.2 961.5,591.2 969.5,595.4 977.5,599.3 985.5,602.8 993.5,606.0 1001.5,609.0 1009.5,611.5 1017.5,613.5 1025.5,614.8 1033.5,615.8 1041.5,616.7 1049.5,617.6 1057.5,617.9 1065.5,617.0 1073.5,615.1 1081.5,613.1 1089.5,611.6 1097.5,610.2 1105.5,608.1 1113.5,605.2" fill="none" stroke="#FF0000" stroke-width="1" stroke-dasharray="3,3" shape-rendering="crispEdges"/>
<text x="5" y="576.5" font-size="10" fill="#000" text-anchor="start" font-weight="normal" textLength="151" lengthAdjust="spacingAndGlyphs"  stroke="#000" stroke-width="0.12">MACD(12,26,9) 0.000362 -0.000834</text>
<rect x="297" y="565" width="1" height="6" fill="#FF0000" />
<rect x="1417" y="566" width="1" height="1" fill="#000" />
<text x="1420.3" y="575.3" font-size="10" fill="#000" text-anchor="start" font-weight="normal" textLength="37.5" lengthAdjust="spacingAndGlyphs"  stroke="#000" stroke-width="0.12">0.002574</text>
<rect x="1417" y="595" width="1" height="1" fill="#000" />
<text x="1420.3" y="599" font-size="10" fill="#000" text-anchor="start" font-weight="normal" textLength="17.5" lengthAdjust="spacingAndGlyphs"  stroke="#000" stroke-width="0.12">0.00</text>
<rect x="1417" y="666" width="1" height="1" fill="#000" />
<text x="1420" y="664.4" font-size="10" fill="#000" text-anchor="start" font-weight="normal" textLength="41" lengthAdjust="spacingAndGlyphs"  stroke="#000" stroke-width="0.12">-0.006326</text>
<line x1="1" y1="709.5" x2="1415" y2="709.5" stroke="#C0C0C0" stroke-dasharray="3,3"/>
<line x1="1" y1="760.5" x2="1415" y2="760.5" stroke="#C0C0C0" stroke-dasharray="3,3"/>
<polyline points="1.5,751.5 9.5,748.2 17.5,751.1 25.5,757.2 33.5,758.5 41.5,760.0 49.5,764.7 57.5,767.6 65.5,757.3 73.5,751.5 81.5,757.2 89.5,757.9 97.5,751.8 105.5,743.4 113.5,743.7 121.5,745.6 129.5,744.1 137.5,745.5 145.5,748.3 153.5,738.6 161.5,740.9 169.5,730.9 177.5,726.5 185.5,732.1 193.5,730.9 201.5,724.4 209.5,727.0 217.5,735.8 225.5,735.8 233.5,742.9 241.5,746.8 249.5,754.9 257.5,751.0 265.5,755.3 273.5,747.1 281.5,746.2 289.5,737.4 297.5,736.1 305.5,731.6 313.5,727.7 321.5,729.2 329.5,723.9 337.5,720.2 345.5,717.6 353.5,717.3 361.5,733.3 369.5,727.1 377.5,720.8 385.5,722.5 393.5,733.2 401.5,732.7 409.5,734.7 417.5,744.4 425.5,736.9 433.5,734.2 441.5,724.8 449.5,726.6 457.5,723.0 465.5,728.1 473.5,730.1 481.5,720.1 489.5,725.6 497.5,725.6 505.5,729.0 513.5,736.2 521.5,739.5 529.5,744.3 537.5,751.2 545.5,751.6 553.5,752.6 561.5,756.2 569.5,760.2 577.5,765.0 585.5,765.8 593.5,766.4 601.5,769.3 609.5,769.3 617.5,769.9 625.5,752.7 633.5,755.6 641.5,757.8 649.5,760.8 657.5,749.2 665.5,755.5 673.5,750.7 681.5,748.1 689.5,747.4 697.5,752.7 705.5,747.7 713.5,744.9 721.5,750.1 729.5,750.5 737.5,757.8 745.5,742.3 753.5,744.9 761.5,747.2 769.5,748.1 777.5,749.4 785.5,749.8 793.5,752.3 801.5,738.4 809.5,731.4 817.5,728.6 825.5,722.0 833.5,722.9 841.5,719.7 849.5,721.5 857.5,718.4 865.5,722.1 873.5,718.7 881.5,719.8 889.5,724.6 897.5,723.7 905.5,735.9 913.5,743.0 921.5,748.6 929.5,747.2 937.5,745.5 945.5,738.8 953.5,747.8 961.5,748.1 969.5,745.7 977.5,745.7 985.5,748.1 993.5,756.6 1001.5,756.6 1009.5,744.5 1017.5,737.3 1025.5,739.1 1033.5,746.1 1041.5,747.1 1049.5,749.0 1057.5,736.4 1065.5,728.2 1073.5,729.0 1081.5,734.5 1089.5,739.7 1097.5,739.0 1105.5,724.0 1113.5,722.7" fill="none" stroke="#1E90FF" stroke-width="1" shape-rendering="crispEdges"/>
<text x="5" y="681.5" font-size="10" fill="#000" text-anchor="start" font-weight="normal" textLength="68" lengthAdjust="spacingAndGlyphs"  stroke="#000" stroke-width="0.12">RSI(14) 60.0067</text>
<rect x="1417" y="671" width="1" height="1" fill="#000" />
<text x="1420.5" y="680.2" font-size="10" fill="#000" text-anchor="start" font-weight="normal" textLength="14.5" lengthAdjust="spacingAndGlyphs"  stroke="#000" stroke-width="0.12">100</text>
<text x="1419.5" y="713" font-size="10" fill="#000" text-anchor="start" font-weight="normal" textLength="9.5" lengthAdjust="spacingAndGlyphs"  stroke="#000" stroke-width="0.12">70</text>
<text x="1419.5" y="764" font-size="10" fill="#000" text-anchor="start" font-weight="normal" textLength="9.5" lengthAdjust="spacingAndGlyphs"  stroke="#000" stroke-width="0.12">30</text>
<rect x="1417" y="799" width="1" height="1" fill="#000" />
<text x="1420" y="796.3" font-size="10" fill="#000" text-anchor="start" font-weight="normal" textLength="5" lengthAdjust="spacingAndGlyphs"  stroke="#000" stroke-width="0.12">0</text>
<rect x="1" y="800" width="1" height="4" fill="#000" />
<text x="0" y="812" font-size="10" fill="#000" text-anchor="start" font-weight="normal" textLength="48.59" lengthAdjust="spacingAndGlyphs"  stroke="#000" stroke-width="0.12">9 May 2019</text>
<rect x="65" y="800" width="1" height="4" fill="#000" />
<text x="64" y="812" font-size="10" fill="#000" text-anchor="start" font-weight="normal" textLength="53.77" lengthAdjust="spacingAndGlyphs"  stroke="#000" stroke-width="0.12">19 May 2019</text>
<rect x="129" y="800" width="1" height="4" fill="#000" />
<text x="128" y="812" font-size="10" fill="#000" text-anchor="start" font-weight="normal" textLength="53.77" lengthAdjust="spacingAndGlyphs"  stroke="#000" stroke-width="0.12">28 May 2019</text>
<rect x="193" y="800" width="1" height="4" fill="#000" />
<text x="192" y="812" font-size="10" fill="#000" text-anchor="start" font-weight="normal" textLength="46.02" lengthAdjust="spacingAndGlyphs"  stroke="#000" stroke-width="0.12">6 Jun 2019</text>
<rect x="257" y="800" width="1" height="4" fill="#000" />
<text x="256" y="812" font-size="10" fill="#000" text-anchor="start" font-weight="normal" textLength="51.19" lengthAdjust="spacingAndGlyphs"  stroke="#000" stroke-width="0.12">16 Jun 2019</text>
<rect x="321" y="800" width="1" height="4" fill="#000" />
<text x="320" y="812" font-size="10" fill="#000" text-anchor="start" font-weight="normal" textLength="51.19" lengthAdjust="spacingAndGlyphs"  stroke="#000" stroke-width="0.12">25 Jun 2019</text>
<rect x="385" y="800" width="1" height="4" fill="#000" />
<text x="384" y="812" font-size="10" fill="#000" text-anchor="start" font-weight="normal" textLength="42.91" lengthAdjust="spacingAndGlyphs"  stroke="#000" stroke-width="0.12">4 Jul 2019</text>
<rect x="449" y="800" width="1" height="4" fill="#000" />
<text x="448" y="812" font-size="10" fill="#000" text-anchor="start" font-weight="normal" textLength="48.09" lengthAdjust="spacingAndGlyphs"  stroke="#000" stroke-width="0.12">14 Jul 2019</text>
<rect x="513" y="800" width="1" height="4" fill="#000" />
<text x="512" y="812" font-size="10" fill="#000" text-anchor="start" font-weight="normal" textLength="48.09" lengthAdjust="spacingAndGlyphs"  stroke="#000" stroke-width="0.12">23 Jul 2019</text>
<rect x="577" y="800" width="1" height="4" fill="#000" />
<text x="576" y="812" font-size="10" fill="#000" text-anchor="start" font-weight="normal" textLength="47.06" lengthAdjust="spacingAndGlyphs"  stroke="#000" stroke-width="0.12">1 Aug 2019</text>
<rect x="641" y="800" width="1" height="4" fill="#000" />
<text x="640" y="812" font-size="10" fill="#000" text-anchor="start" font-weight="normal" textLength="51.54" lengthAdjust="spacingAndGlyphs"  stroke="#000" stroke-width="0.12">11 Aug 2019</text>
<rect x="705" y="800" width="1" height="4" fill="#000" />
<text x="704" y="812" font-size="10" fill="#000" text-anchor="start" font-weight="normal" textLength="52.23" lengthAdjust="spacingAndGlyphs"  stroke="#000" stroke-width="0.12">20 Aug 2019</text>
<rect x="769" y="800" width="1" height="4" fill="#000" />
<text x="768" y="812" font-size="10" fill="#000" text-anchor="start" font-weight="normal" textLength="52.23" lengthAdjust="spacingAndGlyphs"  stroke="#000" stroke-width="0.12">29 Aug 2019</text>
<rect x="833" y="800" width="1" height="4" fill="#000" />
<text x="832" y="812" font-size="10" fill="#000" text-anchor="start" font-weight="normal" textLength="47.57" lengthAdjust="spacingAndGlyphs"  stroke="#000" stroke-width="0.12">8 Sep 2019</text>
<rect x="897" y="800" width="1" height="4" fill="#000" />
<text x="896" y="812" font-size="10" fill="#000" text-anchor="start" font-weight="normal" textLength="52.74" lengthAdjust="spacingAndGlyphs"  stroke="#000" stroke-width="0.12">17 Sep 2019</text>
<rect x="961" y="800" width="1" height="4" fill="#000" />
<text x="960" y="812" font-size="10" fill="#000" text-anchor="start" font-weight="normal" textLength="52.74" lengthAdjust="spacingAndGlyphs"  stroke="#000" stroke-width="0.12">26 Sep 2019</text>
<rect x="1025" y="800" width="1" height="4" fill="#000" />
<text x="1024" y="812" font-size="10" fill="#000" text-anchor="start" font-weight="normal" textLength="45.49" lengthAdjust="spacingAndGlyphs"  stroke="#000" stroke-width="0.12">6 Oct 2019</text>
<rect x="1089" y="800" width="1" height="4" fill="#000" />
<text x="1088" y="812" font-size="10" fill="#000" text-anchor="start" font-weight="normal" textLength="50.66" lengthAdjust="spacingAndGlyphs"  stroke="#000" stroke-width="0.12">15 Oct 2019</text>
<rect x="0" y="820" width="1461" height="1" fill="#DCDCDC" />
<rect x="0" y="821" width="1461" height="25" fill="#F0F0F0" />
<rect x="0" y="822" width="1461" height="1" fill="#000" />
<rect x="111" y="822" width="106" height="18" fill="#FFFFFF" />
<rect x="110" y="822" width="1" height="19" fill="#000" />
<rect x="217" y="822" width="1" height="19" fill="#000" />
<rect x="110" y="840" width="108" height="1" fill="#000" />
<rect x="0" y="842" width="1461" height="1" fill="#FAFAFA" />
<text x="13" y="837" font-size="12" fill="#6E6E6E" text-anchor="start" font-weight="normal" textLength="85" lengthAdjust="spacingAndGlyphs" >EURUSD-,Daily</text>
<text x="120" y="837" font-size="12" fill="#000" text-anchor="start" font-weight="normal" textLength="87" lengthAdjust="spacingAndGlyphs" >AUDUSD-,Daily</text>
<text x="230" y="837" font-size="12" fill="#6E6E6E" text-anchor="start" font-weight="normal" textLength="84" lengthAdjust="spacingAndGlyphs" >USDCHF-,Daily</text>
<text x="337" y="837" font-size="12" fill="#6E6E6E" text-anchor="start" font-weight="normal" textLength="86" lengthAdjust="spacingAndGlyphs" >USDCAD-,Daily</text>
<text x="446" y="837" font-size="12" fill="#6E6E6E" text-anchor="start" font-weight="normal" textLength="87" lengthAdjust="spacingAndGlyphs" >USDCNH-,Daily</text>
<text x="557" y="837" font-size="12" fill="#6E6E6E" text-anchor="start" font-weight="normal" textLength="97" lengthAdjust="spacingAndGlyphs" >EURCHF-,Weekly</text>
<text x="677" y="837" font-size="12" fill="#6E6E6E" text-anchor="start" font-weight="normal" textLength="101" lengthAdjust="spacingAndGlyphs" >XAUUSD-,Weekly</text>
<text x="801" y="837" font-size="12" fill="#6E6E6E" text-anchor="start" font-weight="normal" textLength="72" lengthAdjust="spacingAndGlyphs" >GBPUSD-,H1</text>
<text x="897" y="837" font-size="12" fill="#6E6E6E" text-anchor="start" font-weight="normal" textLength="56" lengthAdjust="spacingAndGlyphs" >UKOil-,H1</text>
<text x="976" y="837" font-size="12" fill="#6E6E6E" text-anchor="start" font-weight="normal" textLength="83" lengthAdjust="spacingAndGlyphs" >USDX-,Weekly</text>
<text x="1080" y="837" font-size="12" fill="#6E6E6E" text-anchor="start" font-weight="normal" textLength="70" lengthAdjust="spacingAndGlyphs" >EURCHF-,H1</text>
<text x="1173" y="837" font-size="12" fill="#6E6E6E" text-anchor="start" font-weight="normal" textLength="56" lengthAdjust="spacingAndGlyphs" >USOil-,H1</text>
<rect x="326" y="825" width="1" height="14" fill="#A0A0A0" />
<rect x="434" y="825" width="1" height="14" fill="#A0A0A0" />
<rect x="546" y="825" width="1" height="14" fill="#A0A0A0" />
<rect x="666" y="825" width="1" height="14" fill="#A0A0A0" />
<rect x="789" y="825" width="1" height="14" fill="#A0A0A0" />
<rect x="886" y="825" width="1" height="14" fill="#A0A0A0" />
<rect x="966" y="825" width="1" height="14" fill="#A0A0A0" />
<rect x="1070" y="825" width="1" height="14" fill="#A0A0A0" />
<rect x="1162" y="825" width="1" height="14" fill="#A0A0A0" />
<rect x="1242" y="825" width="1" height="14" fill="#A0A0A0" />
<polygon points="1435,828 1435,834 1432,831" fill="#A0A0A0"/>
<polygon points="1451,828 1451,834 1454,831" fill="#A0A0A0"/>
<rect x="56" y="43" width="115" height="24" fill="#FFFFFF" />
<rect x="4" y="43" width="52" height="24" fill="url(#gt)" />
<rect x="171" y="43" width="52" height="24" fill="url(#gt)" />
<rect x="4" y="67" width="109" height="40" fill="url(#gp)" />
<rect x="115" y="67" width="108" height="40" fill="url(#gp)" />
<path d="M4.5,43.5 H55.5 V67.5 H112.5 V106.5 H4.5 Z" fill="none" stroke="#0C0CB4" shape-rendering="crispEdges"/>
<path d="M171.5,43.5 H222.5 V106.5 H115.5 V67.5 H171.5 Z" fill="none" stroke="#0C0CB4" shape-rendering="crispEdges"/>
<rect x="8" y="66" width="45" height="1" fill="#2020C0" />
<rect x="8" y="67" width="45" height="1" fill="#8080FF" />
<rect x="175" y="66" width="44" height="1" fill="#2020C0" />
<rect x="175" y="67" width="44" height="1" fill="#8080FF" />
<rect x="58.5" y="43.5" width="110" height="21" fill="#fff" stroke="#B8B8B8"/>
<rect x="59" y="44" width="20" height="20" fill="url(#gb)" />
<rect x="79" y="44" width="1" height="21" fill="#C8C8C8" />
<rect x="148" y="44" width="20" height="20" fill="url(#gb)" />
<rect x="147" y="44" width="1" height="21" fill="#C8C8C8" />
<polygon points="65,52 72,52 68.5,55" fill="#5A6ED0"/>
<polygon points="154,55 161,55 157.5,52" fill="#5A6ED0"/>
<text x="143.5" y="58" font-size="12" fill="#000" text-anchor="end" font-weight="normal" textLength="23" lengthAdjust="spacingAndGlyphs" >1.00</text>
<text x="16.5" y="59" font-size="12" fill="#FFFFFF" text-anchor="start" font-weight="normal" textLength="25.5" lengthAdjust="spacingAndGlyphs" >SELL</text>
<text x="184.5" y="59" font-size="12" fill="#FFFFFF" text-anchor="start" font-weight="normal" textLength="23.5" lengthAdjust="spacingAndGlyphs" >BUY</text>
<text x="24" y="97.6" font-size="12" fill="#FFFFFF" text-anchor="start" font-weight="bold" textLength="24" lengthAdjust="spacingAndGlyphs" >0.68</text>
<text x="134.4" y="97.6" font-size="12" fill="#FFFFFF" text-anchor="start" font-weight="bold" textLength="23.5" lengthAdjust="spacingAndGlyphs" >0.68</text>
<text x="52" y="98" font-size="33" fill="#FFFFFF" text-anchor="start" font-weight="normal" textLength="34" lengthAdjust="spacingAndGlyphs" >31</text>
<text x="163.5" y="98" font-size="33" fill="#FFFFFF" text-anchor="start" font-weight="normal" textLength="33.5" lengthAdjust="spacingAndGlyphs" >33</text>
<text x="91.5" y="82.2" font-size="10.5" fill="#FFFFFF" text-anchor="start" font-weight="bold" >1</text>
<text x="201.5" y="82.2" font-size="10.5" fill="#FFFFFF" text-anchor="start" font-weight="bold" >4</text>
</svg></body></html>
